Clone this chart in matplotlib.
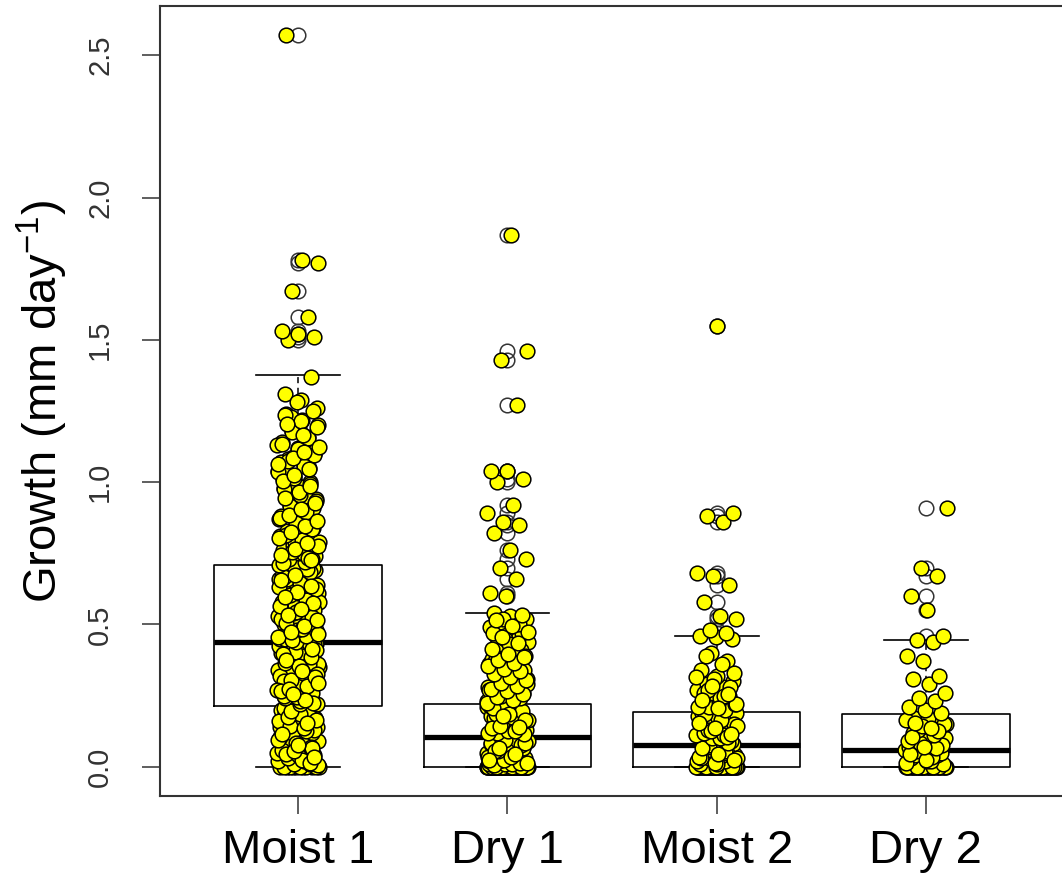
import numpy as np
import matplotlib
matplotlib.use("Agg")
import matplotlib.pyplot as plt

plt.rcParams['font.family'] = ['Liberation Sans', 'DejaVu Sans']
plt.rcParams['mathtext.fontset'] = 'custom'
plt.rcParams['mathtext.rm'] = 'Liberation Sans'
plt.rcParams['mathtext.it'] = 'Liberation Sans:italic'

# group labels
groups = ["Moist 1", "Dry 1", "Moist 2", "Dry 2"]

# box statistics
q1 = [0.215, 0.0, 0.0, 0.0]
medians = [0.437, 0.106, 0.078, 0.060]
q3 = [0.709, 0.222, 0.194, 0.187]
whisk_lo = [0.0, 0.0, 0.0, 0.0]
whisk_hi = [1.375, 0.540, 0.458, 0.445]

# individual growth values
moist1 = [
    0.0, 0.0, 0.0, 0.0, 0.0, 0.0, 0.0, 0.0, 0.0, 0.0,
    0.0, 0.0, 0.01, 0.01, 0.02, 0.02,
    0.03, 0.04, 0.05, 0.06, 0.07, 0.08, 0.09, 0.10, 0.11, 0.12,
    0.13, 0.14, 0.15, 0.16, 0.17, 0.18, 0.19, 0.20, 0.21, 0.05,
    0.08, 0.12, 0.15, 0.18, 0.20, 0.03, 0.10, 0.14, 0.17, 0.19,
    0.07, 0.11, 0.16, 0.21, 0.09, 0.13, 0.04, 0.06, 0.20, 0.12,
    0.005, 0.025, 0.045, 0.065, 0.085, 0.105, 0.125, 0.145, 0.165, 0.185,
    0.205, 0.015, 0.055, 0.095, 0.135, 0.175, 0.035, 0.075, 0.115, 0.155,
    0.195,
    0.22, 0.23, 0.24, 0.25, 0.26, 0.27, 0.28, 0.29, 0.30, 0.31,
    0.32, 0.33, 0.34, 0.35, 0.36, 0.37, 0.38, 0.39, 0.40, 0.41,
    0.42, 0.43, 0.22, 0.25, 0.28, 0.31, 0.34, 0.37, 0.40, 0.43,
    0.24, 0.27, 0.30, 0.33, 0.36, 0.39, 0.42, 0.26, 0.29, 0.32,
    0.35, 0.38, 0.41, 0.23, 0.30, 0.36, 0.40, 0.27, 0.33, 0.44,
    0.225, 0.245, 0.265, 0.285, 0.305, 0.325, 0.345, 0.365, 0.385, 0.405,
    0.425, 0.235, 0.275, 0.315, 0.355, 0.395, 0.435, 0.255, 0.295, 0.335,
    0.375, 0.415,
    0.44, 0.45, 0.46, 0.47, 0.48, 0.49, 0.50, 0.51, 0.52, 0.53,
    0.54, 0.55, 0.56, 0.57, 0.58, 0.59, 0.60, 0.61, 0.62, 0.63,
    0.64, 0.65, 0.66, 0.67, 0.68, 0.69, 0.70, 0.46, 0.50, 0.54,
    0.58, 0.62, 0.66, 0.70, 0.48, 0.52, 0.56, 0.60, 0.64, 0.68,
    0.45, 0.51, 0.57, 0.63, 0.69, 0.47, 0.55, 0.61, 0.67, 0.53,
    0.445, 0.465, 0.485, 0.505, 0.525, 0.545, 0.565, 0.585, 0.605, 0.625,
    0.645, 0.665, 0.685, 0.705, 0.455, 0.495, 0.535, 0.575, 0.615, 0.655,
    0.695, 0.475, 0.515, 0.555, 0.595, 0.635, 0.675,
    0.71, 0.72, 0.73, 0.74, 0.75, 0.76, 0.77, 0.78, 0.79, 0.80,
    0.82, 0.84, 0.86, 0.88, 0.90, 0.92, 0.94, 0.96, 0.98, 1.00,
    1.02, 1.04, 1.06, 1.08, 1.10, 1.12, 1.14, 1.16, 1.18, 1.20,
    1.22, 1.24, 0.73, 0.77, 0.81, 0.85, 0.89, 0.93, 0.97, 1.01,
    1.05, 1.09, 1.13, 0.75, 0.83, 0.91, 0.99, 1.07, 1.15, 1.23,
    1.26, 1.29, 1.31, 1.37, 0.79, 0.87, 0.95, 1.03, 1.11, 1.19,
    0.715, 0.735, 0.755, 0.775, 0.795, 0.815, 0.835, 0.855, 0.875, 0.895,
    0.915, 0.935, 0.955, 0.975, 0.995, 1.015, 1.035, 1.055, 1.075, 1.095,
    1.115, 1.135, 1.155, 1.175, 1.195, 1.215, 1.235, 0.725, 0.765, 0.805,
    0.845, 0.885, 0.925, 0.965, 1.005, 1.045, 1.085, 1.125, 1.165, 1.205,
    1.25, 1.28, 0.745, 0.785, 0.825, 0.865, 0.905, 0.945, 0.985, 1.025,
    1.065, 1.105,
    1.50, 1.51, 1.52, 1.53, 1.58, 1.67, 1.77, 1.78, 2.57,
]
dry1 = [
    0.0, 0.0, 0.0, 0.0, 0.0, 0.0, 0.0, 0.0, 0.0, 0.0,
    0.0, 0.0, 0.0, 0.0, 0.0, 0.0, 0.0, 0.0, 0.0, 0.0,
    0.0, 0.0, 0.0, 0.0, 0.0, 0.0, 0.0, 0.0, 0.0, 0.0,
    0.0, 0.0, 0.0, 0.0, 0.0, 0.0, 0.0, 0.0, 0.0, 0.0,
    0.0, 0.0, 0.0, 0.0, 0.0, 0.0, 0.0, 0.0, 0.0, 0.0,
    0.0, 0.0, 0.0, 0.0, 0.0, 0.0, 0.0, 0.0, 0.0, 0.0,
    0.01, 0.01, 0.02, 0.02, 0.03, 0.03, 0.04, 0.04, 0.05, 0.05,
    0.06, 0.06, 0.07, 0.07, 0.08, 0.08, 0.09, 0.09, 0.10, 0.10,
    0.11, 0.11, 0.02, 0.04, 0.06, 0.08, 0.10, 0.03, 0.05, 0.07,
    0.09, 0.01, 0.05, 0.08, 0.11, 0.12, 0.13, 0.14, 0.15, 0.16,
    0.005, 0.015, 0.025, 0.035, 0.045, 0.055, 0.065, 0.075, 0.085, 0.095,
    0.105, 0.015, 0.035, 0.055, 0.075, 0.095, 0.025, 0.045, 0.065, 0.085,
    0.17, 0.18, 0.19, 0.20, 0.21, 0.22, 0.12, 0.14, 0.16, 0.18,
    0.20, 0.22, 0.13, 0.15, 0.17, 0.19, 0.21, 0.12, 0.16, 0.20,
    0.115, 0.125, 0.135, 0.145, 0.155, 0.165, 0.175, 0.185, 0.195, 0.205,
    0.215, 0.125, 0.145, 0.165, 0.185, 0.205,
    0.14, 0.18, 0.23, 0.24, 0.25, 0.26, 0.27, 0.28, 0.29, 0.30,
    0.31, 0.32, 0.33, 0.34, 0.35, 0.36, 0.37, 0.38, 0.39, 0.40,
    0.41, 0.42, 0.43, 0.44, 0.45, 0.46, 0.47, 0.48, 0.49, 0.50,
    0.51, 0.52, 0.53, 0.54, 0.24, 0.26, 0.28, 0.30, 0.32, 0.34,
    0.36, 0.38, 0.40, 0.25, 0.29, 0.33, 0.37, 0.41, 0.45, 0.27,
    0.31, 0.35, 0.39, 0.43, 0.47, 0.50, 0.52,
    0.225, 0.235, 0.245, 0.255, 0.265, 0.275, 0.285, 0.295, 0.305, 0.315,
    0.325, 0.335, 0.345, 0.355, 0.365, 0.375, 0.385, 0.395, 0.415, 0.435,
    0.455, 0.475, 0.495, 0.515, 0.535,
    0.60, 0.61, 0.66, 0.70, 0.73, 0.76, 0.82, 0.85, 0.86, 0.89,
    0.92, 1.00, 1.01, 1.04, 1.04, 1.27, 1.43, 1.46, 1.87,
]
moist2 = [
    0.0, 0.0, 0.0, 0.0, 0.0, 0.0, 0.0, 0.0, 0.0, 0.0,
    0.0, 0.0, 0.0, 0.0, 0.0, 0.0, 0.0, 0.0, 0.0, 0.0,
    0.0, 0.0, 0.0, 0.0, 0.0, 0.0, 0.0, 0.0, 0.0, 0.0,
    0.0, 0.0, 0.0, 0.0, 0.0, 0.0, 0.0, 0.0, 0.0, 0.0,
    0.01, 0.02, 0.03, 0.04, 0.05, 0.06, 0.07, 0.08, 0.02, 0.04,
    0.06, 0.08, 0.01, 0.03, 0.05, 0.07, 0.03, 0.06, 0.08, 0.09,
    0.015, 0.035, 0.055, 0.075, 0.025, 0.045, 0.065, 0.085,
    0.10, 0.11, 0.12, 0.13, 0.14, 0.15, 0.16, 0.17, 0.18, 0.19,
    0.10, 0.12, 0.14, 0.16, 0.18, 0.11, 0.13, 0.15, 0.17, 0.19,
    0.105, 0.125, 0.145, 0.165, 0.185, 0.115, 0.135, 0.155,
    0.20, 0.21, 0.22, 0.23, 0.24, 0.25, 0.26, 0.27, 0.28, 0.29,
    0.30, 0.32, 0.34, 0.37, 0.40, 0.22, 0.24, 0.26, 0.28, 0.31,
    0.21, 0.25, 0.27, 0.33, 0.205, 0.235, 0.255, 0.285, 0.315, 0.36,
    0.39, 0.45, 0.455, 0.458,
    0.47, 0.48, 0.52, 0.53, 0.58, 0.64, 0.67, 0.68, 0.86, 0.88,
    0.89, 1.55,
]
dry2 = [
    0.0, 0.0, 0.0, 0.0, 0.0, 0.0, 0.0, 0.0, 0.0, 0.0,
    0.0, 0.0, 0.0, 0.0, 0.0, 0.0, 0.0, 0.0, 0.0, 0.0,
    0.0, 0.0, 0.0, 0.0, 0.0, 0.0, 0.0, 0.0, 0.0, 0.0,
    0.01, 0.02, 0.03, 0.04, 0.05, 0.06, 0.02, 0.04,
    0.05, 0.06, 0.07, 0.08, 0.09, 0.10, 0.11, 0.12, 0.13, 0.14,
    0.015, 0.035, 0.055, 0.075, 0.025, 0.045, 0.065, 0.085,
    0.15, 0.16, 0.17, 0.18, 0.07, 0.09, 0.11, 0.13, 0.15, 0.17,
    0.105, 0.125, 0.145, 0.165, 0.135, 0.155,
    0.19, 0.20, 0.21, 0.23, 0.24, 0.26, 0.29, 0.31, 0.32, 0.37,
    0.39, 0.44, 0.445,
    0.46, 0.55, 0.60, 0.67, 0.70, 0.91,
]
values = [moist1, dry1, moist2, dry2]

ytick_vals = [0.0, 0.5, 1.0, 1.5, 2.0, 2.5]
ytick_labels = ["0.0", "0.5", "1.0", "1.5", "2.0", "2.5"]

fig = plt.figure(figsize=(10.62, 8.84), dpi=100)
ax = fig.add_axes([0.1507, 0.0995, 0.8512, 0.8937])

# boxplot statistics -> bxp (outliers drawn as hollow circles like R)
stats = []
for i, g in enumerate(groups):
    v = np.array(values[i])
    stats.append(dict(label=g, med=medians[i], q1=q1[i], q3=q3[i],
                      whislo=whisk_lo[i], whishi=whisk_hi[i],
                      fliers=v[v > whisk_hi[i]]))

ax.bxp(stats, positions=[1, 2, 3, 4], widths=0.8, capwidths=0.4,
       boxprops=dict(color='black', lw=1.2),
       medianprops=dict(color='black', lw=3.8, solid_capstyle='butt'),
       whiskerprops=dict(color='black', lw=1.1, linestyle=(0, (4, 3))),
       capprops=dict(color='black', lw=1.2),
       flierprops=dict(marker='o', mfc='none', mec='#333333', ms=10.5, mew=1.1),
       zorder=2)

# jittered points on top, deterministic spread
for i, v in enumerate(values):
    n = len(v)
    offs = ((np.arange(n) * 0.6180339887 + 0.37) % 1.0 - 0.5) * 0.2
    ax.scatter(np.full(n, i + 1) + offs, v, s=112, c='#ffff00',
               edgecolors='black', linewidths=1.1, zorder=3)

ax.set_xlim(0.34, 4.66)
ax.set_ylim(-0.1028, 2.6728)
ax.set_xticks([1, 2, 3, 4])
ax.set_xticklabels(groups, fontsize=34)
ax.set_yticks(ytick_vals)
ax.set_yticklabels(ytick_labels, fontsize=21, color='#333333', rotation=90, va='center')
ax.tick_params(axis='x', length=13, width=1.1, pad=11, color='#333333')
ax.tick_params(axis='y', length=13, width=1.1, pad=20, color='#333333')

for side in ['left', 'bottom', 'top', 'right']:
    ax.spines[side].set_linewidth(1.5)
    ax.spines[side].set_color('#333333')

ax.set_ylabel("Growth (mm day$^{-1}$)", fontsize=34)
ax.yaxis.set_label_coords(-0.1, 0.5)

fig.savefig("out.png", dpi=100)
